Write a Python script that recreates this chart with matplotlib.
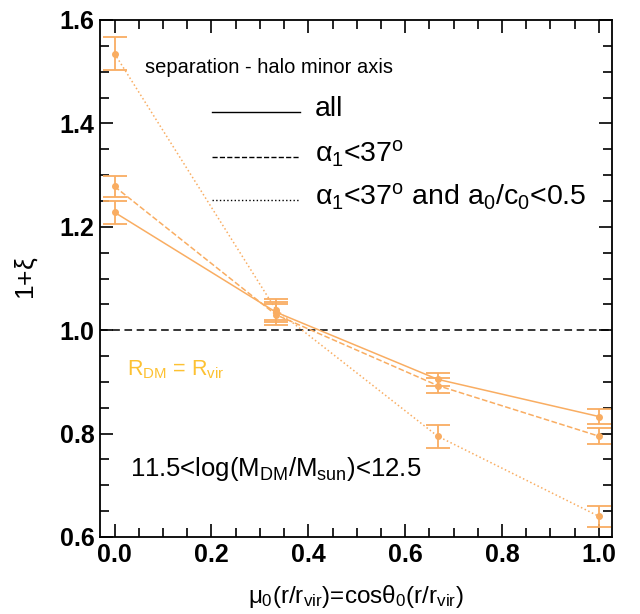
import matplotlib
matplotlib.use("Agg")
import matplotlib.pyplot as plt
from matplotlib.ticker import MultipleLocator

plt.rcParams['font.family'] = ['Liberation Sans', 'DejaVu Sans']
plt.rcParams['mathtext.fontset'] = 'custom'
plt.rcParams['mathtext.rm'] = 'Liberation Sans'
plt.rcParams['mathtext.it'] = 'Liberation Sans'

# data
mu = [0.0, 0.333, 0.667, 1.0]
xi_all = [1.228, 1.035, 0.905, 0.833]
err_all = [0.022, 0.020, 0.012, 0.015]
xi_a1 = [1.278, 1.030, 0.893, 0.795]
err_a1 = [0.020, 0.020, 0.015, 0.015]
xi_a1ac = [1.535, 1.040, 0.795, 0.640]
err_a1ac = [0.032, 0.020, 0.022, 0.020]

labels = ['all', r'$\alpha_1$<37$^{\rm o}$', r'$\alpha_1$<37$^{\rm o}$ and a$_0$/c$_0$<0.5']
styles = ['-', '--', ':']
orange = '#f9ad62'

fig = plt.figure(figsize=(6.4, 6.14), dpi=100)
ax = fig.add_axes([100/640, 1 - 537/614, 512/640, 517/614])

ax.axhline(1.0, color='black', ls=(0, (5, 3)), lw=1.1)

for y, e, ls in zip([xi_all, xi_a1, xi_a1ac], [err_all, err_a1, err_a1ac], styles):
    ax.errorbar(mu, y, yerr=e, color=orange, ls=ls, lw=1.1, marker='o', ms=4,
                capsize=8.5, capthick=1.3, elinewidth=1.3)

# legend drawn by hand in axes coordinates
rows = [0.822, 0.735, 0.652]
for yy, ls, lab in zip(rows, styles, labels):
    ax.plot([0.219, 0.39], [yy, yy], color='black', ls=ls, lw=1.0, transform=ax.transAxes)
    ax.text(0.42, yy + 0.006, lab, fontsize=20.5, va='center', ha='left', transform=ax.transAxes)

ax.text(0.088, 0.909, 'separation - halo minor axis', fontsize=14.5, transform=ax.transAxes,
        va='center')
ax.text(0.053, 0.323, r'R$_{\rm DM}$ = R$_{\rm vir}$', fontsize=15.5, color='#fdc132',
        transform=ax.transAxes, va='center')
ax.text(0.059, 0.132, r'11.5<log(M$_{\rm DM}$/M$_{\rm sun}$)<12.5', fontsize=18.5,
        transform=ax.transAxes, va='center')

ax.set_xlim(-0.03, 1.027)
ax.set_ylim(0.6, 1.6)
ax.xaxis.set_major_locator(MultipleLocator(0.2))
ax.xaxis.set_minor_locator(MultipleLocator(0.05))
ax.yaxis.set_major_locator(MultipleLocator(0.2))
ax.yaxis.set_minor_locator(MultipleLocator(0.05))
ax.xaxis.set_major_formatter(lambda v, p: f'{v:.1f}')
ax.yaxis.set_major_formatter(lambda v, p: f'{v:.1f}')
ax.tick_params(which='both', direction='in', top=True, right=True, width=1.2)
ax.tick_params(which='major', length=9.5, labelsize=18, pad=4)
ax.tick_params(which='minor', length=6.5)
for lab in ax.get_xticklabels() + ax.get_yticklabels():
    lab.set_fontweight('bold')
for s in ax.spines.values():
    s.set_linewidth(1.3)

ax.set_ylabel(r'1+$\xi$', fontsize=19, labelpad=14)
ax.set_xlabel(r'$\mu_0$(r/r$_{\rm vir}$)=cos$\theta_0$(r/r$_{\rm vir}$)', fontsize=17.5, labelpad=12)

fig.savefig('out.png', dpi=100)
